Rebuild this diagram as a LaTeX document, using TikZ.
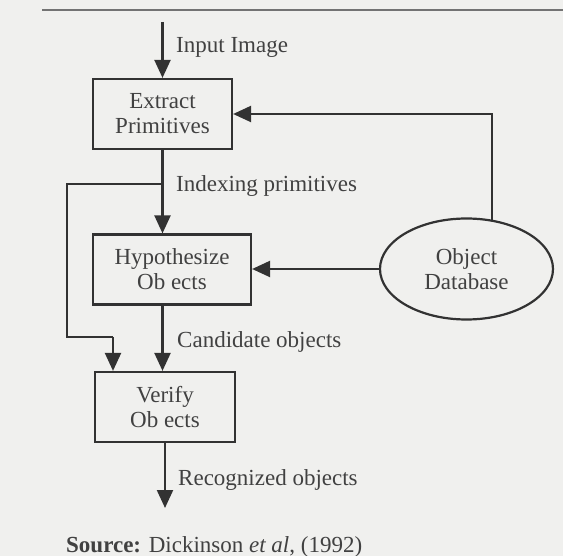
\documentclass[tikz,border=0pt]{standalone}
\usepackage{fontspec}
\setmainfont{Liberation Serif}
\usetikzlibrary{arrows.meta,shapes.geometric,calc}
\definecolor{bg}{RGB}{240,240,238}
\definecolor{ink}{RGB}{50,50,50}
\definecolor{txt}{RGB}{65,65,65}
\begin{document}
\begin{tikzpicture}[x=1pt,y=-1pt,
  lbl/.style={text=txt,font=\fontsize{23}{25}\selectfont,inner sep=0pt},
  box/.style={draw=ink,line width=2.2pt,rectangle,text=txt,align=center,
    font=\fontsize{23}{25}\selectfont,inner sep=0pt},
  conn/.style={draw=ink,line width=2.2pt},
  arr/.style={conn,-{Triangle[length=18pt,width=16pt]}}]
\fill[bg] (0,0) rectangle (563,556);
\useasboundingbox (0,0) rectangle (563,556);
\draw[gray!90!black,line width=1.4pt] (42,10) -- (563,10);
% nodes
\node[box,minimum width=139pt,minimum height=70pt] (extract) at (162.5,114) {Extract\\Primitives};
\node[box,minimum width=158pt,minimum height=70pt] (hyp) at (172,269.5) {Hypothesize\\Ob ects};
\node[box,minimum width=140pt,minimum height=70pt] (verify) at (165,407) {Verify\\Ob ects};
\node[draw=ink,line width=2.2pt,ellipse,minimum width=173pt,minimum height=101pt,inner sep=0pt,
  text=txt,align=center,font=\fontsize{23}{25}\selectfont] (db) at (466.5,269) {Object\\Database};
% coordinates
\coordinate (in) at (162.5,22);
\coordinate (dbtop) at (492,220);
\coordinate (br) at (162.5,184);
\coordinate (bl) at (67,184);
\coordinate (bb) at (67,337);
\coordinate (bv) at (113,337);
\coordinate (out) at (165,508);
% connectors
\draw[arr] (in) -- (extract.north);
\draw[arr] (dbtop) |- (extract.east);
\draw[arr] (db.west) -- (db.west -| hyp.east);
\draw[arr] (extract.south) -- (extract.south |- hyp.north);
\draw[conn] (br) -- (bl) -- (bb) -- (bv);
\draw[arr] (bv) -- (bv |- verify.north);
\draw[arr] (extract.south |- hyp.south) -- (extract.south |- verify.north);
\draw[arr] (verify.south) -- (out);
% labels
\node[lbl,anchor=west] (l1) at (176,47) {Input Image};
\node[lbl,anchor=west] (l2) at (176,186) {Indexing primitives};
\node[lbl,anchor=west] (l3) at (177,342) {Candidate objects};
\node[lbl,anchor=west] (l4) at (178,480) {Recognized objects};
\node[lbl,anchor=west] (src) at (66,547) {\textbf{Source:} Dickinson \textit{et al}, (1992)};
\end{tikzpicture}
\end{document}
